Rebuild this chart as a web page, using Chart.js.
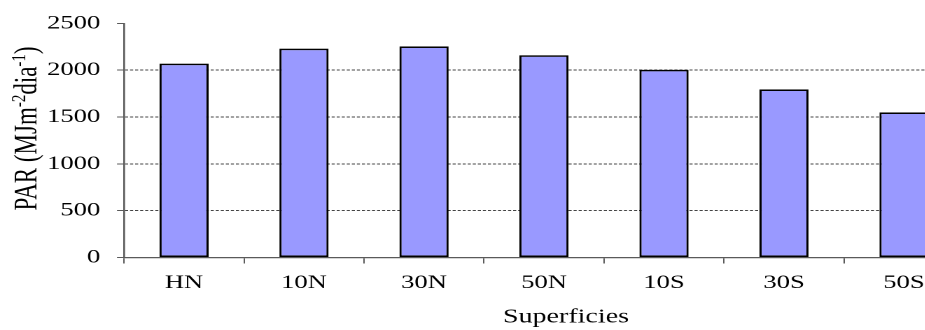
<!DOCTYPE html>
<html><head><meta charset="utf-8">
<script src="https://cdn.jsdelivr.net/npm/chart.js@4/dist/chart.umd.min.js"></script>
<style>
html,body{margin:0;padding:0;background:#fff;overflow:hidden;}
#wrap{width:925px;height:330px;overflow:hidden;position:relative;background:#fff;}
#c{display:block;}
</style></head><body>
<div id="wrap"><canvas id="c" width="700" height="330" style="width:980px;height:330px"></canvas></div>
<script>
// ---- data ----
const categories = ['HN', '10N', '30N', '50N', '10S', '30S', '50S'];
const parValues = [2070, 2230, 2255, 2160, 2005, 1795, 1550];
const yTickValues = [0, 500, 1000, 1500, 2000, 2500];
// y-axis title pieces: [text, isSuperscript]
const yTitleParts = [['PAR (MJm', false], ['-2', true], ['dia', false], ['-1', true], [')', false]];
const xTitle = 'Superficies';

// ---- style ----
const SX = 1.4; // horizontal stretch of the canvas (display px / chart px)
const FONT = "'Liberation Serif', 'Times New Roman', serif";
const AXIS = '#5a5a5a';

const titlesPlugin = {
  id: 'axisTitles',
  afterDraw(chart) {
    const ctx = chart.ctx;
    const area = chart.chartArea;
    const main = 23, sup = 15;
    ctx.save();
    ctx.fillStyle = '#000';
    ctx.textBaseline = 'alphabetic';
    ctx.textAlign = 'left';
    let total = 0;
    const widths = yTitleParts.map(([t, s]) => {
      ctx.font = (s ? sup : main) + 'px ' + FONT;
      const w = ctx.measureText(t).width;
      total += w;
      return w;
    });
    const cy = (area.top + area.bottom) / 2 - 12;
    ctx.translate(25 / SX + 8, cy);
    ctx.rotate(-Math.PI / 2);
    let x = -total / 2;
    yTitleParts.forEach(([t, s], i) => {
      ctx.font = (s ? sup : main) + 'px ' + FONT;
      ctx.fillText(t, x, s ? -8 : 0);
      x += widths[i];
    });
    ctx.restore();

    // x-axis title
    ctx.save();
    ctx.fillStyle = '#000';
    ctx.font = '20px ' + FONT;
    ctx.textAlign = 'center';
    ctx.textBaseline = 'middle';
    ctx.fillText(xTitle, (area.left + area.right) / 2 + 22 / SX, 317);
    ctx.restore();
  }
};

new Chart(document.getElementById('c'), {
  type: 'bar',
  data: {
    labels: categories,
    datasets: [{
      data: parValues,
      backgroundColor: '#9999ff',
      borderColor: '#000',
      borderWidth: 1.6,
      borderSkipped: false,
      barPercentage: 0.82,
      categoryPercentage: 0.5
    }]
  },
  options: {
    responsive: false,
    devicePixelRatio: 2,
    animation: false,
    layout: { padding: { top: 23, right: 700 - 964 / SX, left: 0, bottom: 0 } },
    plugins: { legend: { display: false }, tooltip: { enabled: false } },
    scales: {
      x: {
        offset: true,
        grid: { display: true, drawOnChartArea: false, drawTicks: true, tickLength: 6, offset: true,
                color: AXIS, tickColor: AXIS, tickWidth: 1 },
        border: { display: true, color: AXIS, width: 1.3 },
        ticks: { color: '#000', font: { family: FONT, size: 19 }, padding: 8, maxRotation: 0, autoSkip: false },
        title: { display: false },
        afterFit: s => { s.height = 72.5; }
      },
      y: {
        min: 0, max: 2500,
        afterBuildTicks: s => { s.ticks = yTickValues.map(v => ({ value: v })); },
        grid: {
          display: true, drawOnChartArea: true, drawTicks: true, tickLength: 5,
          color: c => (c.tick && (c.tick.value === 0 || c.tick.value === 2500)) ? 'rgba(0,0,0,0)' : '#444',
          lineWidth: 1, tickColor: AXIS, tickWidth: 1, tickBorderDash: []
        },
        border: { display: true, color: AXIS, width: 1.3, dash: [2.2, 1.4] },
        ticks: { color: '#000', font: { family: FONT, size: 19 }, padding: 12, callback: v => String(v) },
        title: { display: false },
        afterFit: s => { s.width = 124 / SX; }
      }
    }
  },
  plugins: [titlesPlugin]
});
</script>
</body></html>
